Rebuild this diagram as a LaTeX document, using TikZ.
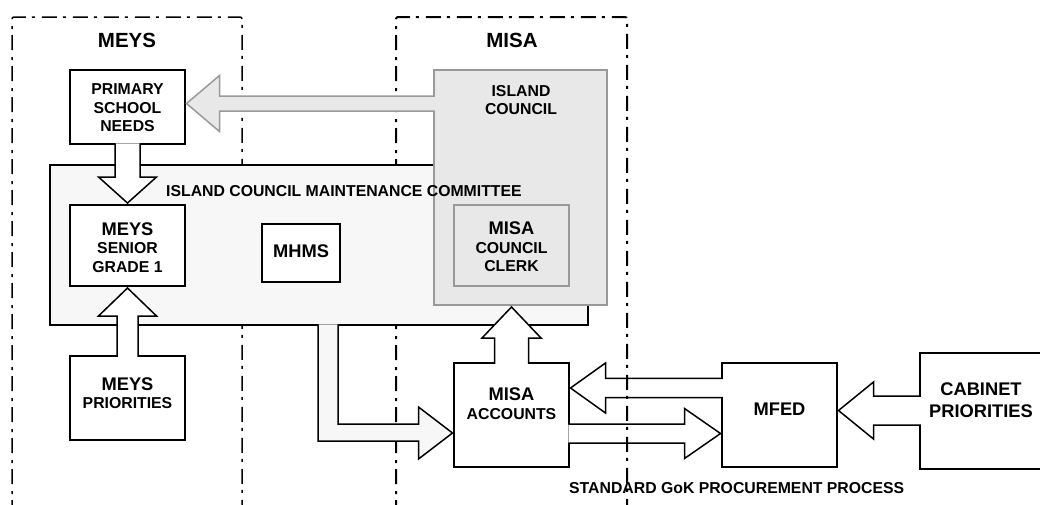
\documentclass[tikz,border=0pt]{standalone}
\usepackage{fontspec}
\setmainfont{Liberation Sans}
\usetikzlibrary{calc}
\newcommand\bigtxt[1]{{\fontsize{18.3}{19}\selectfont #1}}
\definecolor{cmfill}{HTML}{F7F7F7}
\definecolor{icfill}{HTML}{E8E8E8}
\definecolor{icline}{HTML}{999999}
\tikzset{
  box/.style={rectangle, draw=black, line width=1.5pt, fill=white, inner sep=0pt, outer sep=0pt},
  gbox/.style={rectangle, draw=icline, line width=1.5pt, fill=icfill, inner sep=0pt, outer sep=0pt},
  blk/.style={draw=black, line width=1.5pt, fill=white, line join=miter},
  gblk/.style={draw=icline, line width=1.5pt, fill=icfill, line join=miter},
  txt/.style={font=\bfseries\fontsize{15.8}{18.5}\selectfont, align=center, inner sep=0pt},
  head/.style={font=\bfseries\fontsize{20.5}{22}\selectfont, inner sep=0pt},
  region/.style={draw=black, dash pattern=on 15pt off 6pt on 3pt off 7pt, rounded corners=2pt},
}
\begin{document}
\begin{tikzpicture}[x=1pt,y=-1pt]
\useasboundingbox (0,0) rectangle (1040,504);
% right-hand boxes
\node[box, minimum width=115, minimum height=104] (mac) at (511.5,415) {};
\node[box, minimum width=115, minimum height=104] (mfed) at (779.5,415) {};
\node[box, minimum width=122, minimum height=116] (cab) at (981,411) {};
% MFED -> MISA accounts
\coordinate (t4) at ($(mac.east)+(1.5,-27)$);
\coordinate (s4) at (mfed.west |- t4);
\draw[blk] ($(s4)+(0.75,-9.7)$) -- ($(t4)+(35,-9.7)$) -- ($(t4)+(35,-25)$) -- (t4)
  -- ($(t4)+(35,25)$) -- ($(t4)+(35,9.7)$) -- ($(s4)+(0.75,9.7)$);
% MISA accounts -> MFED
\coordinate (t5) at ($(mfed.west)+(-1.5,18.5)$);
\coordinate (s5) at (mac.east |- t5);
\draw[blk] ($(s5)+(-0.75,-9.5)$) -- ($(t5)+(-36,-9.5)$) -- ($(t5)+(-36,-25)$) -- (t5)
  -- ($(t5)+(-36,25)$) -- ($(t5)+(-36,9.5)$) -- ($(s5)+(-0.75,9.5)$);
% Cabinet -> MFED
\coordinate (t6) at ($(mfed.east)+(1.5,-4.5)$);
\coordinate (s6) at (cab.west |- t6);
\draw[blk] ($(s6)+(0.75,-14.5)$) -- ($(t6)+(35,-14.5)$) -- ($(t6)+(35,-28.5)$) -- (t6)
  -- ($(t6)+(35,28.5)$) -- ($(t6)+(35,14.5)$) -- ($(s6)+(0.75,14.5)$);
% regions
\draw[region, line width=1.5pt] (12,515) -- (12,17) -- (242,17) -- (242,515);
\draw[region, line width=2pt] (396,515) -- (396,17) -- (627,17) -- (627,515);
% committee
\node[box, fill=cmfill, minimum width=538, minimum height=160] (icmc) at (319,245) {};
\coordinate (t8) at ($(mac.west)+(-1.5,18)$);
\coordinate (s8) at ($(icmc.south)+(9,0)$);
\draw[blk, fill=cmfill] ($(s8)+(-10,-0.75)$) -- ($(s8 |- t8)+(-10,8)$) -- ($(t8)+(-34,8)$)
  -- ($(t8)+(-34,26)$) -- (t8) -- ($(t8)+(-34,-26)$) -- ($(t8)+(-34,-9)$)
  -- ($(s8 |- t8)+(10,-9)$) -- ($(s8)+(10,-0.75)$);
% island council
\node[gbox, minimum width=173, minimum height=235] (ic) at (520.5,187.5) {};
\node[gbox, minimum width=115, minimum height=81] (clerk) at (511.5,245.5) {};
% MEYS boxes
\node[box, minimum width=115, minimum height=74] (psn) at (127.5,107) {};
\node[box, minimum width=115, minimum height=81] (msg) at (127.5,245.5) {};
\node[box, minimum width=115, minimum height=84] (mp) at (127.5,398) {};
\node[box, minimum width=78, minimum height=58] (mhms) at (301,253) {};
% island council -> primary school needs
\coordinate (t7) at ($(psn.east)+(1.5,-3.5)$);
\coordinate (s7) at (ic.west |- t7);
\draw[gblk] ($(s7)+(0.75,-7.5)$) -- ($(t7)+(33,-7.5)$) -- ($(t7)+(33,-28)$) -- (t7)
  -- ($(t7)+(33,28)$) -- ($(t7)+(33,7.5)$) -- ($(s7)+(0.75,7.5)$);
% primary school needs -> MEYS senior
\coordinate (t1) at ($(msg.north)+(0,-2)$);
\coordinate (s1) at (psn.south);
\draw[blk] ($(s1)+(-12.5,-0.75)$) -- ($(t1)+(-12.5,-26)$) -- ($(t1)+(-29,-26)$) -- (t1)
  -- ($(t1)+(29,-26)$) -- ($(t1)+(12.5,-26)$) -- ($(s1)+(12.5,-0.75)$);
% MEYS priorities -> MEYS senior
\coordinate (t2) at ($(msg.south)+(0,2)$);
\coordinate (s2) at (mp.north);
\draw[blk] ($(s2)+(-10.5,0.75)$) -- ($(t2)+(-10.5,28)$) -- ($(t2)+(-29,28)$) -- (t2)
  -- ($(t2)+(29,28)$) -- ($(t2)+(10.5,28)$) -- ($(s2)+(10.5,0.75)$);
% MISA accounts -> island council
\coordinate (t3) at ($(mac.north |- ic.south)+(0,2)$);
\coordinate (s3) at (mac.north);
\draw[blk] ($(s3)+(-17,0.75)$) -- ($(t3)+(-17,31)$) -- ($(t3)+(-29.5,31)$) -- (t3)
  -- ($(t3)+(29.5,31)$) -- ($(t3)+(17,31)$) -- ($(s3)+(17,0.75)$);
% texts
\node[head] (hmeys) at (127,40) {MEYS};
\node[head] (hmisa) at (512,40) {MISA};
\node[txt] (psnt) at ($(psn)+(0,1)$) {PRIMARY\\SCHOOL\\NEEDS};
\node[txt] (msgt) at ($(msg)+(0,2)$) {\bigtxt{MEYS}\\SENIOR\\GRADE 1};
\node[txt] (mpt) at ($(mp)+(0,-5)$) {\bigtxt{MEYS}\\PRIORITIES};
\node[txt] (mhmst) at ($(mhms)+(0,-2)$) {\bigtxt{MHMS}};
\node[txt, anchor=west] (icmct) at (166,191) {ISLAND COUNCIL MAINTENANCE COMMITTEE};
\node[txt] (ict) at (521,100) {ISLAND\\COUNCIL};
\node[txt] (clerkt) at ($(clerk)+(0,1.5)$) {\bigtxt{MISA}\\COUNCIL\\CLERK};
\node[txt] (mact) at ($(mac)+(0,-11.5)$) {\bigtxt{MISA}\\ACCOUNTS};
\node[txt] (mfedt) at ($(mfed)+(0,-6)$) {\bigtxt{MFED}};
\node[txt, font=\bfseries\fontsize{18.3}{22}\selectfont] (cabt) at ($(cab)+(0,-11)$) {CABINET\\PRIORITIES};
\node[txt, anchor=west] (gok) at (569,488) {STANDARD GoK PROCUREMENT PROCESS};
\end{tikzpicture}
\end{document}
